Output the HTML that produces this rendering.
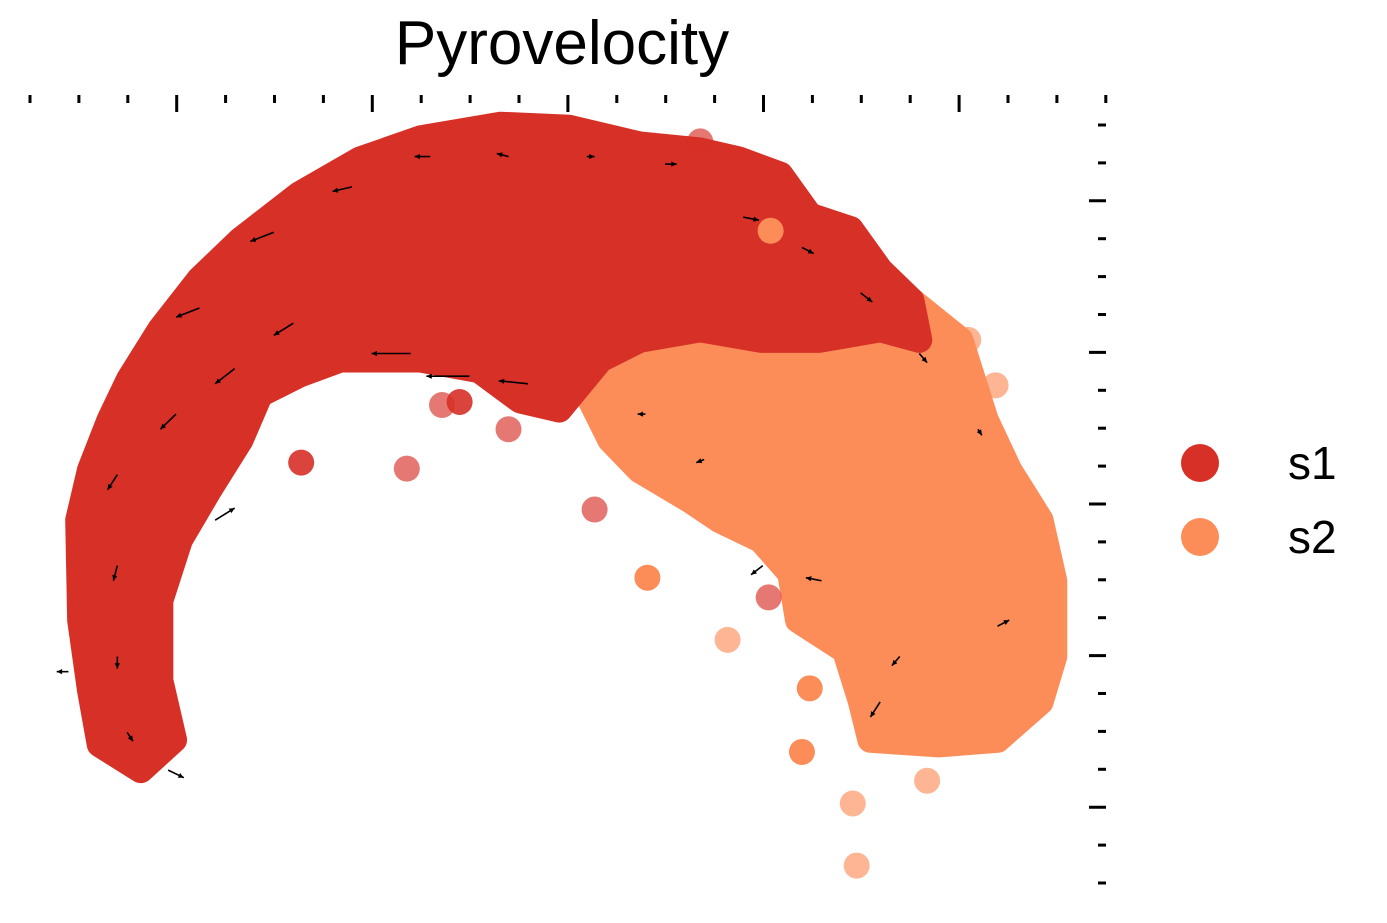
<!DOCTYPE html>
<html><head><meta charset="utf-8">
<style>
body{margin:0;background:#fff;}
svg{display:block;font-family:"Liberation Sans","DejaVu Sans",sans-serif;}
</style></head>
<body>
<svg id="chart" width="1387" height="923" viewBox="0 0 1387 923" xmlns="http://www.w3.org/2000/svg">
<text x="562" y="64" font-size="62" text-anchor="middle" fill="#000">Pyrovelocity</text>
<g id="ticks"></g>
<g id="plot"></g>
<g>
  <g>
    <circle cx="1200" cy="463" r="19" fill="#d73027"/>
    <text x="1288" y="479" font-size="46" fill="#000">s1</text>
  </g>
  <g>
    <circle cx="1200" cy="537" r="19" fill="#fc8d59"/>
    <text x="1288" y="553" font-size="46" fill="#000">s2</text>
  </g>
</g>
</svg>
<script>
// data (UMAP-like units)
const s2Outline = [[2.17,3.09],[2.47,3.35],[2.78,3.55],[3.09,3.35],[3.45,3.29],[3.76,3.35],[4.01,3.09],[4.14,2.56],[4.26,2.23],[4.42,1.90],[4.49,1.50],[4.49,1.00],[4.42,0.70],[4.20,0.45],[3.90,0.42],[3.55,0.45],[3.50,0.71],[3.42,1.04],[3.18,1.24],[3.14,1.55],[2.99,1.77],[2.78,1.90],[2.63,2.03],[2.37,2.23],[2.22,2.43],[2.12,2.69]];
const s1Outline = [[-0.18,0.25],[-0.39,0.42],[-0.44,0.78],[-0.49,1.24],[-0.50,1.90],[-0.44,2.23],[-0.34,2.56],[-0.24,2.83],[-0.08,3.16],[0.12,3.49],[0.33,3.75],[0.63,4.05],[0.94,4.28],[1.25,4.42],[1.66,4.51],[2.01,4.49],[2.37,4.38],[2.68,4.34],[2.88,4.28],[3.09,4.18],[3.24,3.91],[3.45,3.82],[3.60,3.55],[3.76,3.35],[3.80,3.09],[3.60,3.16],[3.29,3.09],[2.99,3.09],[2.68,3.16],[2.37,3.09],[2.17,2.96],[1.96,2.63],[1.76,2.69],[1.55,2.89],[1.25,2.96],[1.04,2.96],[0.84,2.96],[0.63,2.86],[0.43,2.73],[0.33,2.43],[0.17,2.10],[0.02,1.77],[-0.08,1.37],[-0.08,0.84],[-0.01,0.45]];
const outX = [0.64,1.18,2.14,3.03,2.41,2.82,3.24,3.20,3.46,3.48,3.84,2.68,3.04,4.19,4.05,1.36,1.70,1.45,2.60,3.60];
const outY = [2.28,2.24,1.97,1.39,1.52,1.11,0.79,0.37,0.03,-0.38,0.18,4.40,3.81,2.79,3.09,2.66,2.50,2.68,2.10,2.00];
const outGroup = ['s1','s1','s1','s1','s2','s2','s2','s2','s2','s2','s2','s1','s2','s2','s2','s1','s1','s1','s2','s2'];
const outAlpha = [0.9,0.65,0.65,0.65,1,0.65,1,1,0.65,0.65,0.65,0.65,1,0.65,0.65,0.65,0.65,0.9,0.65,0.65];
const arrX = [0.12,0.50,0.90,1.30,1.70,2.10,2.50,1.20,1.50,1.80,0.60,0.30,0.00,-0.30,-0.30,-0.30,-0.25,0.20,2.90,3.20,3.50,3.80,4.10,3.30,3.70,4.20,3.00,3.60,2.40,2.70,-0.55,-0.04];
const arrY = [3.30,3.80,4.10,4.30,4.30,4.30,4.25,3.00,2.85,2.80,3.20,2.90,2.60,2.20,1.60,1.00,0.50,1.90,3.90,3.70,3.40,3.00,2.50,1.50,1.00,1.20,1.60,0.70,2.60,2.30,0.90,0.25];
const arrU = [-0.12,-0.12,-0.10,-0.08,-0.06,0.04,0.06,-0.20,-0.22,-0.15,-0.10,-0.10,-0.08,-0.05,-0.02,0.00,0.03,0.10,0.08,0.06,0.06,0.04,0.02,-0.08,-0.04,0.06,-0.06,-0.05,-0.04,-0.04,-0.06,0.08];
const arrV = [-0.06,-0.06,-0.03,0.00,0.02,0.00,0.00,0.00,0.00,0.02,-0.08,-0.10,-0.10,-0.10,-0.10,-0.08,-0.06,0.08,-0.02,-0.04,-0.06,-0.06,-0.04,0.02,-0.06,0.04,-0.06,-0.10,0.00,-0.02,0.00,-0.05];

const NS='http://www.w3.org/2000/svg';
const colors={s1:'#d73027',s2:'#fc8d59'};
const xs = v => 176 + 195.6*v;
const ys = v => 808 - 151.5*v;
const plot=document.getElementById('plot');
const ticks=document.getElementById('ticks');

function mk(tag,attrs,parent){const e=document.createElementNS(NS,tag);for(const k in attrs)e.setAttribute(k,attrs[k]);parent.appendChild(e);return e;}

for(let i=0;i<23;i++){
  const x=30+48.9*i; const major=(i-3)%4===0;
  const t=mk('line',{x1:x,x2:x,y1:95,y2:major?112:103,stroke:'#000','stroke-width':3},ticks);
  
  
}
for(let i=0;i<21;i++){
  const y=125+37.9*i; const major=(i-2)%4===0;
  const t=mk('line',{x1:major?1089:1098,x2:1106,y1:y,y2:y,stroke:'#000','stroke-width':3},ticks);
  
  
}

function region(pts,col,name){
  const d=pts.map(p=>xs(p[0])+','+ys(p[1])).join(' ');
  const p=mk('polygon',{points:d,fill:col,stroke:col,'stroke-width':26,'stroke-linejoin':'round'},plot);
  
  
}
region(s2Outline,colors.s2,'s2-cell-cloud');
region(s1Outline,colors.s1,'s1-cell-cloud');

for(let i=0;i<outX.length;i++){
  const c=mk('circle',{cx:xs(outX[i]),cy:ys(outY[i]),r:13,fill:colors[outGroup[i]],'fill-opacity':outAlpha[i]},plot);
  
  
}

for(let i=0;i<arrX.length;i++){
  const x1=xs(arrX[i]),y1=ys(arrY[i]);
  const x2=xs(arrX[i]+arrU[i]),y2=ys(arrY[i]+arrV[i]);
  const g=mk('g',{},plot);
  
  
  mk('line',{x1:x1,y1:y1,x2:x2,y2:y2,stroke:'#000','stroke-width':1.6},g);
  const a=Math.atan2(y2-y1,x2-x1),h=6;
  const p1=[x2-h*Math.cos(a-0.45),y2-h*Math.sin(a-0.45)],p2=[x2-h*Math.cos(a+0.45),y2-h*Math.sin(a+0.45)];
  mk('polygon',{points:`${x2},${y2} ${p1} ${p2}`,fill:'#000'},g);
}
</script>
</body></html>
